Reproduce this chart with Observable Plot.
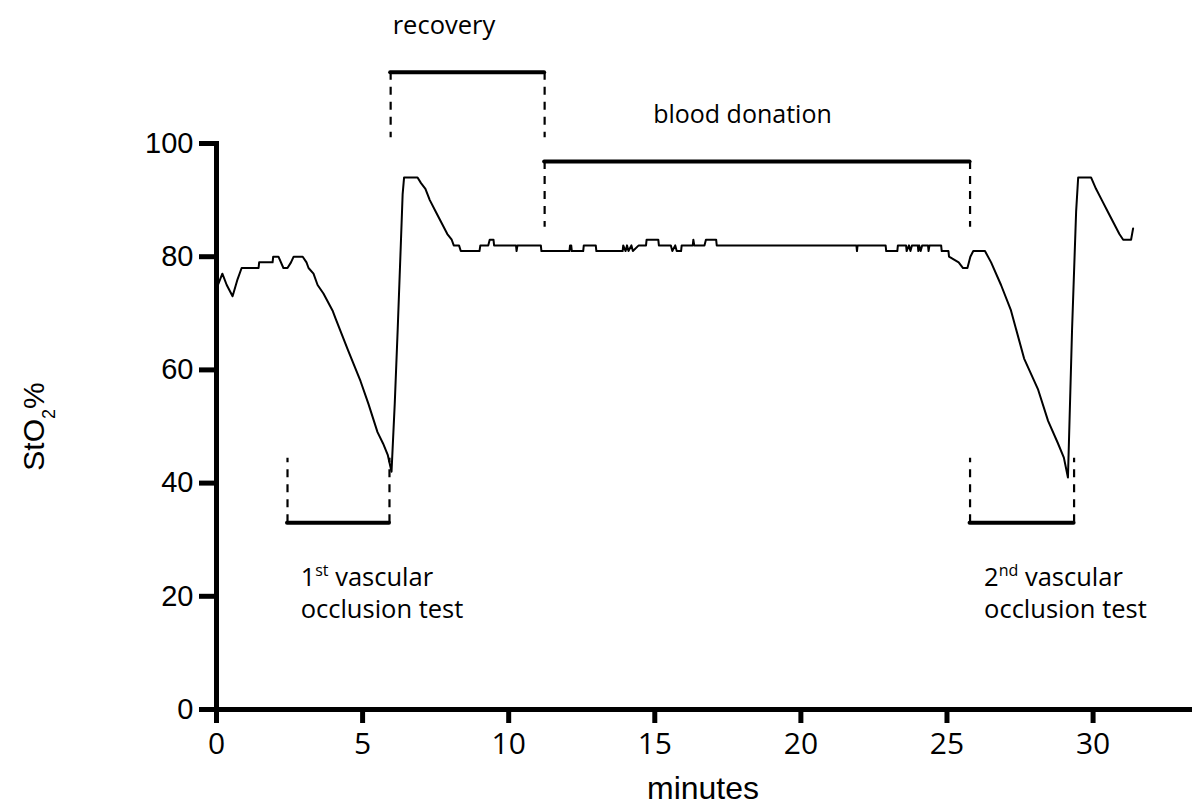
<!DOCTYPE html>
<html>
<head>
<meta charset="utf-8">
<script src="https://cdn.jsdelivr.net/npm/d3@7"></script>
<script src="https://cdn.jsdelivr.net/npm/@observablehq/plot@0.6"></script>
<style>
html, body { margin: 0; padding: 0; background: #fff; }
#chart { width: 1200px; height: 812px; }
</style>
</head>
<body>
<div id="chart"></div>
<script>
// ---- StO2 trace (minutes, %) ----
const minutes = [
  0.05, 0.2, 0.35, 0.55, 0.72, 0.86, 1.44, 1.46, 1.92, 1.94, 2.12, 2.29, 2.43, 2.55, 2.64, 2.95, 3.08, 3.15,
  3.32, 3.46, 3.66, 3.97, 4.08, 4.5, 4.93, 5.2, 5.51, 5.7, 5.86, 5.99,
  6.1, 6.2, 6.3, 6.37, 6.42, 6.88, 7.0, 7.15, 7.3, 7.5, 7.7, 7.9, 8.05, 8.12, 8.3, 8.36,
  9.0, 9.03, 9.3, 9.35, 9.48, 9.5, 10.25, 10.27, 10.3, 11.1, 11.12,
  12.08, 12.1, 12.14, 12.16, 12.55, 12.57, 12.98, 13.0, 13.9, 13.92, 14.0, 14.05, 14.1, 14.2, 14.25, 14.45,
  14.7, 14.72, 15.12, 15.14, 15.55, 15.6, 15.7, 15.75, 15.9, 15.92, 16.3, 16.32, 16.35, 16.7, 16.75, 17.1, 17.12,
  21.9, 21.92, 21.94, 22.9, 22.92, 23.3, 23.32, 23.6, 23.62, 23.7, 23.75, 23.8, 24.0, 24.02, 24.05, 24.1, 24.15,
  24.35, 24.37, 24.4, 24.8, 24.82, 25.05, 25.07, 25.4, 25.55, 25.7, 25.8, 25.9, 26.3,
  26.51, 26.85, 27.19, 27.64, 28.12, 28.46, 28.8, 29.0, 29.14,
  29.28, 29.42, 29.49, 29.93, 30.1, 30.3, 30.5, 30.7, 30.9, 31.03, 31.3, 31.37
];
const sto2 = [
  75, 77, 75, 73, 76, 78, 78, 79, 79, 80, 80, 78, 78, 79, 80, 80, 79, 78,
  77, 75, 73.5, 70.5, 69, 63.5, 58, 54, 49, 47, 45, 42,
  54, 67, 81, 91, 94, 94, 93, 92, 90, 88, 86, 84, 83, 82, 82, 81,
  81, 82, 82, 83, 83, 82, 82, 81, 82, 82, 81,
  81, 82, 82, 81, 81, 82, 82, 81, 81, 82, 81, 82, 81, 82, 81, 82,
  82, 83, 83, 82, 82, 81, 82, 81, 81, 82, 82, 83, 82, 82, 83, 83, 82,
  82, 81, 82, 82, 81, 81, 82, 82, 81, 82, 81, 82, 82, 81, 82, 81, 82,
  82, 81, 82, 82, 81, 81, 80, 79, 78, 78, 80, 81, 81,
  79, 75, 70.5, 62, 56.5, 51, 47, 44.5, 41,
  67, 88, 94, 94, 92, 90, 88, 86, 84, 83, 83, 85
];

// ---- axis ticks ----
const xTicks = [0, 5, 10, 15, 20, 25, 30];
const yTicks = [0, 20, 40, 60, 80, 100];

// ---- phase brackets (minutes, StO2 units) ----
const phaseNames = ["recovery", "blood donation", "1st vascular occlusion test", "2nd vascular occlusion test"];
const phaseStart = [5.96, 11.23, 2.43, 25.79];
const phaseEnd   = [11.23, 25.79, 5.92, 29.35];
const phaseBar   = [112.6, 96.8, 33.0, 33.0];
const phaseTip   = [101.0, 85.2, 44.4, 44.4];

// ---- annotation text (baseline positions in data units) ----
const noteText = ["recovery", "1st vascular", "occlusion test", "2nd vascular", "occlusion test"];
const noteX    = [6.03, 2.88, 2.88, 26.27, 26.27];
const noteY    = [119.4, 21.9, 16.1, 21.9, 16.1];
const centerNote = ["blood donation"];
const centerNoteX = [18.0];
const centerNoteY = [103.7];

const trace = minutes.map((t, i) => ({t, v: sto2[i]}));
const phases = phaseNames.map((name, i) => ({name, x1: phaseStart[i], x2: phaseEnd[i], bar: phaseBar[i], tip: phaseTip[i]}));
const notes = noteText.map((text, i) => ({text, x: noteX[i], y: noteY[i]}));
const cnotes = centerNote.map((text, i) => ({text, x: centerNoteX[i], y: centerNoteY[i]}));

const chart = Plot.plot({
  width: 1200,
  height: 812,
  marginLeft: 216,
  marginRight: 11,
  marginTop: 143,
  marginBottom: 103,
  x: {domain: [0, 33.3], axis: null},
  y: {domain: [0, 100], axis: null},
  style: {fontFamily: "Liberation Sans, Arial, sans-serif", background: "#fff", color: "#000", overflow: "visible"},
  marks: [
    Plot.axisY({ticks: yTicks, tickSize: 17, tickPadding: 6, strokeWidth: 5, fontSize: 29,
      fontFamily: "Liberation Sans", tickFormat: d => String(d), label: null}),
    Plot.axisX({ticks: xTicks, tickSize: 14, tickPadding: 9, strokeWidth: 5, fontSize: 30,
      fontFamily: "Open Sans", tickFormat: d => String(d), label: null}),
    Plot.frame({anchor: "left", strokeWidth: 5}),
    Plot.frame({anchor: "bottom", strokeWidth: 5}),
    Plot.line(trace, {x: "t", y: "v", stroke: "#000", strokeWidth: 2}),
    Plot.ruleY(phases, {y: "bar", x1: "x1", x2: "x2", stroke: "#000", strokeWidth: 4, strokeLinecap: "round"}),
    Plot.ruleX(phases, {x: "x1", y1: "bar", y2: "tip", stroke: "#000", strokeWidth: 2.2, strokeDasharray: "8,7"}),
    Plot.ruleX(phases, {x: "x2", y1: "bar", y2: "tip", stroke: "#000", strokeWidth: 2.2, strokeDasharray: "8,7"}),
    Plot.text(notes, {x: "x", y: "y", text: "text", textAnchor: "start", lineAnchor: "bottom",
      fontFamily: "Open Sans", fontSize: 25.5, fill: "#000"}),
    Plot.text(cnotes, {x: "x", y: "y", text: "text", textAnchor: "middle", lineAnchor: "bottom",
      fontFamily: "Open Sans", fontSize: 25, fill: "#000"}),
    Plot.text(["minutes"], {frameAnchor: "bottom", dy: 89, lineAnchor: "bottom", textAnchor: "middle",
      fontFamily: "Liberation Sans", fontSize: 32, fill: "#000"}),
    Plot.text(["StO2%"], {frameAnchor: "left", dx: -194, rotate: -90, lineAnchor: "top", textAnchor: "middle",
      fontFamily: "Liberation Sans", fontSize: 30, fill: "#000"})
  ]
});

// make sure axis ticks are as heavy as in the reference
chart.querySelectorAll('g[aria-label="y-axis tick"], g[aria-label="x-axis tick"]').forEach(g => {
  g.setAttribute("stroke-width", "5");
  g.querySelectorAll("path, line").forEach(p => p.setAttribute("stroke-width", "5"));
});

// rich text: subscripts / superscripts
const NS = "http://www.w3.org/2000/svg";
function rich(el, parts) {
  el.textContent = "";
  for (const p of parts) {
    if (typeof p === "string") el.appendChild(document.createTextNode(p));
    else {
      const t = document.createElementNS(NS, "tspan");
      t.textContent = p.text;
      t.setAttribute("style", p.style);
      el.appendChild(t);
    }
  }
}
chart.querySelectorAll("text").forEach(el => {
  const s = el.textContent;
  if (s === "StO2%") rich(el, ["StO", {text: "2", style: "font-size:18px;baseline-shift:-11px"}, "%"]);
  else if (s === "1st vascular") rich(el, ["1", {text: "st", style: "font-size:16px;baseline-shift:10px"}, " vascular"]);
  else if (s === "2nd vascular") rich(el, ["2", {text: "nd", style: "font-size:16px;baseline-shift:10px"}, " vascular"]);
});

document.getElementById("chart").appendChild(chart);
</script>
</body>
</html>
